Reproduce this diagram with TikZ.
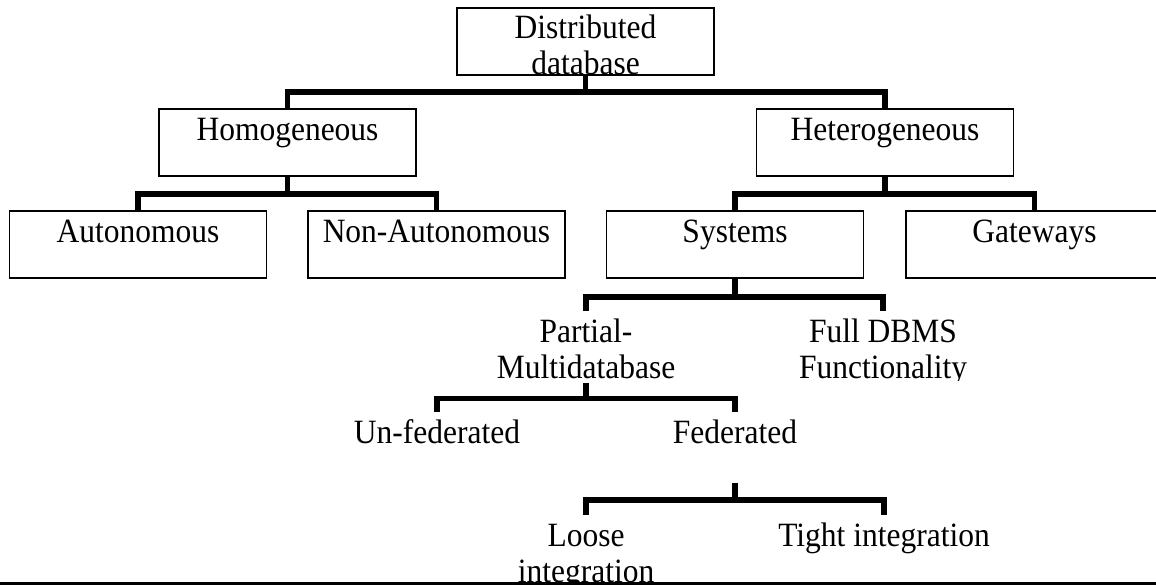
\documentclass[tikz,border=0pt]{standalone}
\usepackage{fontspec}
\setmainfont{Liberation Serif}
\newcommand{\vstr}[1]{\scalebox{1}[1.08]{#1}}
\begin{document}
\begin{tikzpicture}[x=1pt,y=-1pt,
  every node/.style={font=\fontsize{31.5}{36}\selectfont},
  boxnode/.style={draw, line width=1.5pt, minimum width=257pt, minimum height=67pt, inner sep=0pt},
  tbox/.style={boxnode, text height=31pt, text depth=36pt, anchor=base},
  lbl/.style={inner sep=0pt, text height=31pt, text depth=8pt, anchor=base},
  mlbl/.style={inner sep=0pt, align=center, anchor=north},
  conn/.style={line width=5.5pt, line join=miter}]
\useasboundingbox (0,0) rectangle (1156,586);
\fill[white] (0,0) rectangle (1156,586);
% boxes
\node[boxnode] (dd) at (585.5,41.5) {};
\node[mlbl] (ddt) at (585.5,7) {\rule{0pt}{31pt}\vstr{Distributed}\\\vstr{database}};
\node[tbox] (hom) at (287.5,140) {\vstr{Homogeneous}};
\node[tbox] (het) at (885,140) {\vstr{Heterogeneous}};
\node[tbox] (aut) at (138,242) {\vstr{Autonomous}};
\node[tbox] (nonaut) at (436.5,242) {\vstr{Non-Autonomous}};
\node[tbox] (sys) at (735,242) {\vstr{Systems}};
\node[tbox] (gw) at (1034.5,242) {\vstr{Gateways}};
% plain labels
\node[mlbl] (pm) at (586,311) {\rule{0pt}{31pt}\vstr{Partial-}\\\vstr{Multidatabase}};
\begin{scope}
\clip (740,300) rectangle (1030,380);
\node[mlbl] (full) at (883,311) {\rule{0pt}{31pt}\vstr{Full DBMS}\\\vstr{Functionality}};
\end{scope}
\node[lbl] (unfed) at (437,443) {\vstr{Un-federated}};
\node[lbl] (fed) at (735,443) {\vstr{Federated}};
\begin{scope}
\clip (470,500) rectangle (710,582);
\node[mlbl] (loose) at (586,515) {\rule{0pt}{31pt}\vstr{Loose}\\\vstr{integration}};
\end{scope}
\node[lbl] (tight) at (884,546) {\vstr{Tight integration}};
% connectors
\draw[conn] (dd.south) -- ++(0,16) -| (hom.north);
\draw[conn] (dd.south) -- ++(0,16) -| (het.north);
\draw[conn] (hom.south) -- ++(0,17) -| (aut.north);
\draw[conn] (hom.south) -- ++(0,17) -| (nonaut.north);
\draw[conn] (het.south) -- ++(0,17) -| (sys.north);
\draw[conn] (het.south) -- ++(0,17) -| (gw.north);
\draw[conn] (sys.south) -- ++(0,18) -| (pm.north);
\draw[conn] (sys.south) -- ++(0,18) -| (full.north);
\draw[conn] ([yshift=-4pt]pm.south) -- ++(0,16) -| (unfed.north);
\draw[conn] ([yshift=-4pt]pm.south) -- ++(0,16) -| (fed.north);
\draw[conn] ([yshift=-32pt]fed.south) -- ++(0,17) -| (loose.north);
\draw[conn] ([yshift=-32pt]fed.south) -- ++(0,17) -| (tight.north);
% bottom rule
\draw[line width=3pt] (0,583) -- (1156,583);
\end{tikzpicture}
\end{document}
